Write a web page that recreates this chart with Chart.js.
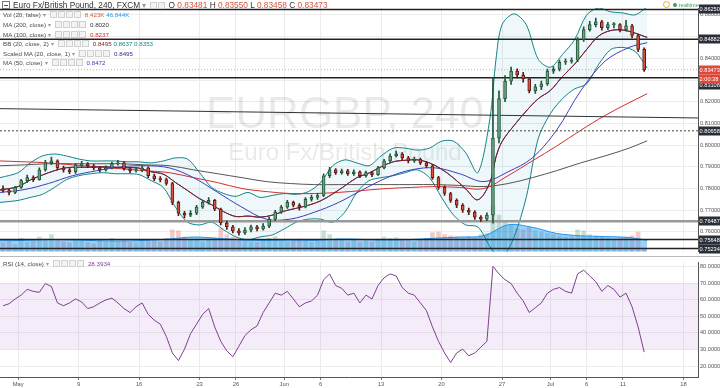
<!DOCTYPE html>
<html>
<head>
<meta charset="utf-8">
<script src="https://cdn.jsdelivr.net/npm/chart.js@4.4.1/dist/chart.umd.min.js"></script>
<style>
  body { margin: 0; background: #fff; font-family: "Liberation Sans", Arial, sans-serif; }
  #wrap { position: relative; width: 720px; height: 388px; overflow: hidden; }
  canvas { position: absolute; left: 0; }
  .lg { position: absolute; left: 3px; height: 9px; line-height: 9px; font-size: 6.2px; color: #4a4a4a; white-space: nowrap; }
  .ic { display: inline-block; width: 5px; height: 5px; border: 1px solid #cfcfcf; background: #f3f3f3; margin-right: 1px; vertical-align: -1px; }
  .car { color: #999; margin: 0 4px 0 2px; }
  .v { margin-left: 3px; }
  .tt { font-size: 8.3px; color: #333; height: 10px; line-height: 10px; left: 2px; }
  .sq { display: inline-block; width: 6px; height: 6px; border: 1px solid #777; margin-right: 3px; vertical-align: -1px; position: relative; }
  .sq:after { content: ""; position: absolute; left: 1px; top: 2.5px; width: 4px; height: 1px; background: #555; }
  .rt { position: absolute; top: 1px; left: 663px; font-size: 5.6px; color: #3e9c5a; line-height: 8px; white-space: nowrap; }
  .rt .o { display: inline-block; width: 5px; height: 5px; border: 1.2px solid #f5a623; border-radius: 50%; vertical-align: -1px; margin-right: 3px; }
  .rt .d { display: inline-block; width: 4px; height: 4px; background: #3e9c5a; border-radius: 50%; margin-right: 2px; }
</style>
</head>
<body>
<div id="wrap">
  <canvas id="main" width="720" height="257" style="top:0"></canvas>
  <canvas id="rsi" width="720" height="131" style="top:257px"></canvas>

  <div class="lg tt" style="top:0">
    <span class="sq"></span>Euro Fx/British Pound, 240, FXCM<span class="car">▾</span><span class="ic"></span><span class="ic"></span>
    <span>O <span style="color:#d75442">0.83481</span> H <span style="color:#d75442">0.83550</span> L <span style="color:#d75442">0.83458</span> C <span style="color:#d75442">0.83473</span></span>
  </div>
  <div class="lg" style="top:10px">Vol (20, false)<span class="car">▾</span><span class="ic"></span><span class="ic"></span><span class="ic"></span><span class="ic"></span><span class="v" style="color:#d75442">8.423K</span> <span style="color:#2196f3">46.844K</span></div>
  <div class="lg" style="top:19.5px">MA (200, close)<span class="car">▾</span><span class="ic"></span><span class="ic"></span><span class="ic"></span><span class="ic"></span><span class="v" style="color:#333">0.8020</span></div>
  <div class="lg" style="top:29.5px">MA (100, close)<span class="car">▾</span><span class="ic"></span><span class="ic"></span><span class="ic"></span><span class="ic"></span><span class="v" style="color:#d32f2f">0.8237</span></div>
  <div class="lg" style="top:38.5px">BB (20, close, 2)<span class="car">▾</span><span class="ic"></span><span class="ic"></span><span class="ic"></span><span class="ic"></span><span class="v" style="color:#872323">0.8495</span> <span style="color:#138484">0.8637</span> <span style="color:#138484">0.8353</span></div>
  <div class="lg" style="top:48.5px">Scaled MA (20, close, 1)<span class="car">▾</span><span class="ic"></span><span class="ic"></span><span class="ic"></span><span class="ic"></span><span class="v" style="color:#2c2c8c">0.8495</span></div>
  <div class="lg" style="top:57.5px">MA (50, close)<span class="car">▾</span><span class="ic"></span><span class="ic"></span><span class="ic"></span><span class="ic"></span><span class="v" style="color:#3d3dbf">0.8472</span></div>
  <div class="lg" style="top:258.5px">RSI (14, close)<span class="car">▾</span><span class="ic"></span><span class="ic"></span><span class="ic"></span><span class="ic"></span><span class="v" style="color:#7e3f8f">28.3934</span></div>
  <div class="rt"><span class="o"></span><span class="d"></span>realtime</div>
</div>

<script>
// x unit = trading day, 0 = Mon 2 May
const tickDays = [0, 5, 10, 15, 18, 22, 25, 30, 35, 40, 44, 47, 50, 55];
const tickLabels = ['May', '9', '16', '23', '26', 'Jun', '6', '13', '20', '27', 'Jul', '6', '11', '18'];
const priceTicks = [0.76, 0.77, 0.78, 0.79, 0.80, 0.81, 0.82, 0.83, 0.84, 0.85, 0.86];
const rsiTicks = [20, 30, 40, 50, 60, 70, 80];

// half-day candles starting at day -1.25
const firstCandleDay = -1.25;
const opens = [.7800,.7791,.7782,.7805,.7836,.7850,.7841,.7886,.7918,.7927,
  .7895,.7886,.7877,.7909,.7914,.7905,.7895,.7886,.7895,.7914,
  .7918,.7891,.7882,.7886,.7895,.7859,.7845,.7841,.7823,.7736,
  .7686,.7677,.7686,.7714,.7736,.7745,.7705,.7641,.7623,.7605,
  .7595,.7609,.7623,.7614,.7627,.7659,.7691,.7714,.7736,.7723,
  .7714,.7750,.7759,.7768,.7859,.7886,.7873,.7882,.7868,.7877,
  .7859,.7873,.7864,.7895,.7927,.7950,.7959,.7941,.7927,.7936,
  .7918,.7905,.7850,.7805,.7777,.7745,.7723,.7700,.7691,.7668,
  .7659,.7677,.8032,.8214,.8295,.8341,.8323,.8305,.8250,.8268,
  .8282,.8341,.8350,.8382,.8386,.8391,.8486,.8532,.8555,.8568,
  .8541,.8555,.8555,.8532,.8550,.8505,.8441];
const closes = [.7791,.7782,.7805,.7836,.7850,.7841,.7886,.7918,.7927,.7895,
  .7886,.7877,.7909,.7914,.7905,.7895,.7886,.7895,.7914,.7918,
  .7891,.7882,.7886,.7895,.7859,.7845,.7841,.7823,.7736,.7686,
  .7677,.7686,.7714,.7736,.7745,.7705,.7641,.7623,.7605,.7595,
  .7609,.7623,.7614,.7627,.7659,.7691,.7714,.7736,.7723,.7714,
  .7750,.7759,.7768,.7859,.7886,.7873,.7882,.7868,.7877,.7859,
  .7873,.7864,.7895,.7927,.7950,.7959,.7941,.7927,.7936,.7918,
  .7905,.7850,.7805,.7777,.7745,.7723,.7700,.7691,.7668,.7659,
  .7677,.8032,.8214,.8295,.8341,.8323,.8305,.8250,.8268,.8282,
  .8341,.8350,.8382,.8386,.8391,.8486,.8532,.8555,.8568,.8541,
  .8555,.8555,.8532,.8550,.8505,.8441,.8347];
const highs = [.7812,.7798,.7810,.7842,.7862,.7858,.7895,.7930,.7945,.7932,
  .7903,.7894,.7915,.7925,.7920,.7912,.7900,.7904,.7922,.7930,
  .7924,.7898,.7895,.7904,.7900,.7866,.7855,.7848,.7828,.7742,
  .7695,.7698,.7722,.7745,.7758,.7750,.7710,.7650,.7630,.7615,
  .7620,.7632,.7630,.7638,.7668,.7700,.7722,.7745,.7742,.7730,
  .7758,.7770,.7778,.7868,.7898,.7892,.7890,.7888,.7886,.7882,
  .7880,.7878,.7902,.7935,.7960,.7972,.7965,.7948,.7945,.7940,
  .7925,.7910,.7856,.7812,.7782,.7752,.7730,.7710,.7698,.7675,
  .7688,.8311,.8250,.8320,.8360,.8352,.8335,.8312,.8280,.8295,
  .8350,.8362,.8392,.8398,.8402,.8495,.8545,.8570,.8585,.8575,
  .8566,.8565,.8560,.8575,.8556,.8512,.8448];
const lows = [.7783,.7770,.7776,.7800,.7828,.7832,.7838,.7880,.7910,.7886,
  .7875,.7868,.7870,.7900,.7896,.7886,.7876,.7880,.7890,.7908,
  .7884,.7872,.7875,.7878,.7850,.7836,.7830,.7815,.7725,.7675,
  .7665,.7670,.7680,.7708,.7728,.7698,.7632,.7612,.7595,.7585,
  .7588,.7600,.7605,.7608,.7620,.7652,.7685,.7708,.7715,.7700,
  .7710,.7742,.7750,.7762,.7850,.7865,.7866,.7860,.7860,.7850,
  .7852,.7855,.7860,.7890,.7920,.7945,.7932,.7918,.7920,.7910,
  .7896,.7842,.7796,.7768,.7736,.7712,.7690,.7680,.7658,.7648,
  .7652,.7640,.8010,.8200,.8280,.8310,.8290,.8240,.8238,.8255,
  .8275,.8330,.8342,.8372,.8378,.8385,.8478,.8525,.8545,.8530,
  .8532,.8540,.8522,.8525,.8495,.8430,.8340];
const volumes = [35,42,30,55,38,45,60,52,70,48,
  40,36,44,50,38,32,45,40,55,42,
  50,38,35,44,48,52,40,55,90,85,
  60,50,45,40,48,55,95,70,60,52,
  45,40,38,50,55,62,48,40,45,52,
  44,38,42,85,70,50,45,40,48,38,
  44,40,52,60,55,58,48,45,40,50,
  55,78,80,70,65,60,55,62,58,70,
  75,190,150,120,110,95,90,100,85,80,
  75,70,65,60,62,90,85,70,65,60,
  55,50,55,60,65,80,12];
const rsi = [56.4,57.6,60.5,62.8,66.3,65.1,64.5,69.8,68.0,58.1,
  56.4,58.1,60.5,58.7,54.7,55.8,58.1,59.9,61.0,58.1,
  54.7,52.3,55.8,58.1,51.2,47.7,45.3,37.8,27.9,23.3,
  30.2,39.5,45.3,51.2,54.7,43.6,34.9,29.1,25.6,32.0,
  38.4,41.9,44.2,52.3,58.1,64.0,62.8,65.1,60.5,55.8,
  58.1,59.3,62.8,72.1,75.6,68.6,66.9,62.8,64.0,58.1,
  62.8,60.5,68.6,73.3,75.6,74.4,67.4,64.0,62.8,58.1,
  53.5,43.6,34.9,27.9,22.1,27.9,30.2,26.2,27.9,31.4,
  34.9,80.2,75.6,72.1,69.8,64.0,59.3,52.3,55.2,58.1,
  64.0,66.3,67.4,65.1,64.0,75.6,77.9,74.4,70.9,65.1,
  68.6,66.3,61.6,64.0,55.8,43.6,28.4];

// Bollinger bands (20, 2)
const bbDays = [-1.5,0,1,2,3,4,5,6,7,8,9,10,11,12,13,14,15,16,17,18,19,20,21,22,23,24,25,26,27,28,29,
  30,31,32,33,34,35,36,37,38,39,39.5,40,41,42,43,44,45,46,47,48,49,50,51,52];
const bbUpper = [.7850,.7873,.7918,.7950,.7959,.7950,.7936,.7927,.7927,.7927,.7923,.7923,.7918,.7927,.7941,.7936,
  .7873,.7805,.7777,.7764,.7782,.7759,.7768,.7777,.7773,.7786,.7827,.7905,.7932,.7918,.7905,
  .7950,.7986,.7986,.7977,.7986,.8018,.8018,.7964,.7873,.8123,.8395,.8555,.8605,.8555,.8395,
  .8359,.8418,.8486,.8600,.8632,.8614,.8609,.8600,.8637];
const bbLower = [.7736,.7745,.7759,.7773,.7805,.7841,.7859,.7868,.7873,.7868,.7868,.7864,.7836,.7805,.7714,.7645,
  .7632,.7645,.7609,.7577,.7564,.7577,.7586,.7614,.7645,.7659,.7659,.7645,.7691,.7782,.7836,
  .7850,.7859,.7873,.7886,.7850,.7759,.7677,.7632,.7623,.7532,.7495,.7477,.7577,.7759,.8032,
  .8145,.8214,.8259,.8282,.8373,.8441,.8450,.8432,.8355];
const bbBasis = [.7793,.7809,.7839,.7862,.7882,.7896,.7898,.7898,.7900,.7898,.7896,.7894,.7877,.7866,.7828,.7791,
  .7753,.7725,.7693,.7671,.7673,.7668,.7677,.7696,.7709,.7723,.7743,.7775,.7812,.7850,.7871,
  .7900,.7923,.7930,.7932,.7918,.7889,.7848,.7798,.7748,.7828,.7945,.8016,.8091,.8157,.8214,
  .8252,.8316,.8373,.8441,.8503,.8528,.8530,.8516,.8496];

// moving averages
const maDays = [-1.5,0.5,2.5,4.5,6.5,8.5,10.5,12.5,14.5,16.5,18.5,20.5,22.5,24.5,26.5,28.5,30.5,32.5,34.5,
  36.5,38.5,40.5,42.5,44.5,46.5,48.5,50.5,52];
const ma50 = [.7782,.7795,.7823,.7859,.7882,.7900,.7905,.7895,.7850,.7782,.7714,.7659,.7659,.7691,.7736,.7795,
  .7850,.7886,.7895,.7868,.7832,.7877,.7941,.8068,.8250,.8386,.8450,.8472];
const ma100 = [.7927,.7923,.7918,.7909,.7900,.7891,.7882,.7873,.7850,.7827,.7800,.7786,.7777,.7777,.7782,.7791,
  .7800,.7805,.7809,.7805,.7800,.7859,.7927,.7995,.8068,.8136,.8195,.8237];
const ma200 = [.7905,.7909,.7914,.7914,.7914,.7914,.7909,.7905,.7886,.7868,.7850,.7832,.7823,.7818,.7818,.7818,
  .7818,.7818,.7818,.7814,.7809,.7823,.7850,.7882,.7918,.7950,.7986,.8020];
const volMA = [45,46,50,48,45,44,46,52,60,55,48,46,48,46,52,50,48,50,55,60,65,110,100,75,65,62,58,47];

// drawn levels
const levelPrices = [0.86250, 0.84882, 0.83108, 0.80658, 0.76487, 0.75648, 0.75234];
const trendPrices = [0.8168, 0.8125];
const lastPrice = 0.83473;
const countdown = '2:00:38';

const FONT = '"Liberation Sans", Arial, sans-serif';
const xMin = -1.5, xMax = 56.2;
const candleX = closes.map((c, i) => firstCandleDay + i * 0.5);
const isUp = closes.map((c, i) => c >= opens[i]);

const levelStyle = [
  { color: '#222', width: 1.5 },
  { color: '#222', width: 1.5 },
  { color: '#222', width: 1.5 },
  { color: '#444', width: 1, dash: [2, 2] },
  { color: '#999', width: 2.5 },
  { color: '#222', width: 1.5 },
  { color: '#222', width: 1.5 }
];

function hline(v, style) {
  return {
    type: 'line', data: [{ x: xMin, y: v }, { x: xMax, y: v }],
    borderColor: style.color, borderWidth: style.width, borderDash: style.dash || [],
    pointRadius: 0, yAxisID: 'y'
  };
}
function series(xs, ys, color, extra) {
  return Object.assign({
    type: 'line', data: xs.map((x, i) => ({ x: x, y: ys[i] })),
    borderColor: color, borderWidth: 1, pointRadius: 0, tension: 0.35, yAxisID: 'y'
  }, extra || {});
}

const datasets = [
  { // bodies
    type: 'bar', yAxisID: 'y', grouped: false, barThickness: 3, minBarLength: 1,
    data: closes.map((c, i) => ({ x: candleX[i], y: [opens[i], c] })),
    backgroundColor: isUp.map(u => u ? '#6ba583' : '#d75442'),
    borderColor: isUp.map(u => u ? '#225437' : '#5b1a13'),
    borderWidth: 1, borderSkipped: false
  },
  { // wicks
    type: 'bar', yAxisID: 'y', grouped: false, barThickness: 1,
    data: highs.map((h, i) => ({ x: candleX[i], y: [lows[i], h] })),
    backgroundColor: isUp.map(u => u ? '#225437' : '#5b1a13')
  },
  ...levelPrices.map((v, i) => hline(v, levelStyle[i])),
  { type: 'line', data: [{ x: xMin, y: trendPrices[0] }, { x: xMax, y: trendPrices[1] }],
    borderColor: '#333', borderWidth: 1, pointRadius: 0, yAxisID: 'y' },
  hline(lastPrice, { color: 'rgba(215,84,66,0.55)', width: 1, dash: [1, 2] }),
  series(bbDays, bbBasis, '#872323'),
  series(bbDays, bbBasis, '#2c2c8c'),
  series(maDays, ma50, '#3d3dbf'),
  series(maDays, ma100, '#d32f2f'),
  series(maDays, ma200, '#555555'),
  series(bbDays, bbUpper, '#138484', { tension: 0.3 }),
  series(bbDays, bbLower, '#138484', { tension: 0.3, fill: '-1', backgroundColor: 'rgba(33,150,190,0.08)' }),
  series(maDays, volMA, '#2196f3', { yAxisID: 'yv', fill: 'origin', backgroundColor: 'rgba(33,150,243,0.45)', borderWidth: 1 }),
  {
    type: 'bar', yAxisID: 'yv', grouped: false, barThickness: 4,
    data: volumes.map((v, i) => ({ x: candleX[i], y: v })),
    backgroundColor: isUp.map(u => u ? 'rgba(107,165,131,0.35)' : 'rgba(215,84,66,0.3)')
  }
];

function tag(ctx, y, text, bg) {
  ctx.fillStyle = bg;
  ctx.fillRect(699, Math.round(y) - 4.5, 21, 9);
  ctx.fillStyle = '#fff';
  ctx.font = '5.6px ' + FONT;
  ctx.textAlign = 'left';
  ctx.textBaseline = 'middle';
  ctx.fillText(text, 699.6, Math.round(y) + 0.2);
}

const mainDecor = {
  id: 'mainDecor',
  beforeDatasetsDraw(chart) {
    const ctx = chart.ctx;
    ctx.save();
    ctx.fillStyle = 'rgba(0,0,0,0.085)';
    ctx.textAlign = 'center';
    ctx.textBaseline = 'alphabetic';
    ctx.font = '44px ' + FONT;
    ctx.fillText('EURGBP, 240', 345, 128);
    ctx.font = '24px ' + FONT;
    ctx.fillText('Euro Fx/British Pound', 345, 160);
    ctx.restore();
  },
  afterDraw(chart) {
    const ctx = chart.ctx, ys = chart.scales.y;
    ctx.save();
    const dark = '#2a2e39', red = '#e0473b';
    tag(ctx, ys.getPixelForValue(levelPrices[0]), levelPrices[0].toFixed(5), dark);
    tag(ctx, ys.getPixelForValue(levelPrices[1]), levelPrices[1].toFixed(5), dark);
    tag(ctx, ys.getPixelForValue(levelPrices[2]) + 7, levelPrices[2].toFixed(5), dark);
    const yl = ys.getPixelForValue(lastPrice);
    tag(ctx, yl, lastPrice.toFixed(5), red);
    tag(ctx, yl + 9, countdown, red);
    for (let i = 3; i < levelPrices.length; i++) {
      tag(ctx, ys.getPixelForValue(levelPrices[i]), levelPrices[i].toFixed(5), dark);
    }
    ctx.strokeStyle = '#bbb';
    ctx.lineWidth = 1;
    ctx.beginPath();
    ctx.moveTo(0, 256.5);
    ctx.lineTo(720, 256.5);
    ctx.stroke();
    ctx.restore();
  }
};

const pMin = 0.75091, pMax = 0.86318;
const hiddenPrice = [0.85, 0.83];

new Chart(document.getElementById('main'), {
  type: 'bar',
  data: { datasets: datasets },
  options: {
    responsive: false, animation: false, devicePixelRatio: 1,
    layout: { padding: { top: 8, bottom: 2, left: 0, right: 0 } },
    plugins: { legend: { display: false }, tooltip: { enabled: false } },
    scales: {
      x: {
        type: 'linear', min: xMin, max: xMax, offset: false,
        afterBuildTicks: s => { s.ticks = tickDays.map(v => ({ value: v })); },
        ticks: { display: false },
        grid: { color: '#ececec', drawTicks: false, offset: false },
        border: { display: false },
        afterFit: s => { s.height = 0; }
      },
      y: {
        position: 'right', min: pMin, max: pMax,
        afterBuildTicks: s => { s.ticks = priceTicks.map(v => ({ value: v })); },
        ticks: {
          color: '#555', padding: 2, font: { size: 5.6, family: FONT },
          callback: v => hiddenPrice.some(h => Math.abs(h - v) < 1e-6) ? '' : v.toFixed(5)
        },
        grid: { color: '#ececec', drawTicks: false },
        border: { color: '#555' },
        afterFit: s => { s.width = 22; }
      },
      yv: { display: false, min: 0, max: 1000 }
    }
  },
  plugins: [mainDecor]
});

const rsiBand = [30, 70];
const rsiDecor = {
  id: 'rsiDecor',
  beforeDatasetsDraw(chart) {
    const ctx = chart.ctx, ys = chart.scales.y, a = chart.chartArea;
    const y1 = ys.getPixelForValue(rsiBand[1]), y0 = ys.getPixelForValue(rsiBand[0]);
    ctx.save();
    ctx.fillStyle = 'rgba(160,70,210,0.1)';
    ctx.fillRect(a.left, y1, a.right - a.left, y0 - y1);
    ctx.restore();
  }
};

new Chart(document.getElementById('rsi'), {
  type: 'line',
  data: {
    datasets: [{
      data: rsi.map((v, i) => ({ x: candleX[i], y: v })),
      borderColor: '#7e3f8f', borderWidth: 1, pointRadius: 0, tension: 0
    }]
  },
  options: {
    responsive: false, animation: false, devicePixelRatio: 1,
    layout: { padding: { top: 1, bottom: 0, left: 0, right: 0 } },
    plugins: { legend: { display: false }, tooltip: { enabled: false } },
    scales: {
      x: {
        type: 'linear', min: xMin, max: xMax,
        afterBuildTicks: s => { s.ticks = tickDays.map(v => ({ value: v })); },
        ticks: {
          color: '#555', padding: 1, maxRotation: 0, autoSkip: false,
          font: { size: 5.8, family: FONT },
          callback: (v, i) => tickLabels[i]
        },
        grid: { color: '#ececec', tickLength: 3, tickColor: '#777' },
        border: { color: '#555' },
        afterFit: s => { s.height = 11; }
      },
      y: {
        position: 'right', min: 13.37, max: 82.6,
        afterBuildTicks: s => { s.ticks = rsiTicks.map(v => ({ value: v })); },
        ticks: { color: '#555', padding: 2, font: { size: 5.6, family: FONT }, callback: v => v.toFixed(4) },
        grid: { color: '#ececec', drawTicks: false },
        border: { color: '#555' },
        afterFit: s => { s.width = 22; }
      }
    }
  },
  plugins: [rsiDecor]
});
</script>
</body>
</html>
